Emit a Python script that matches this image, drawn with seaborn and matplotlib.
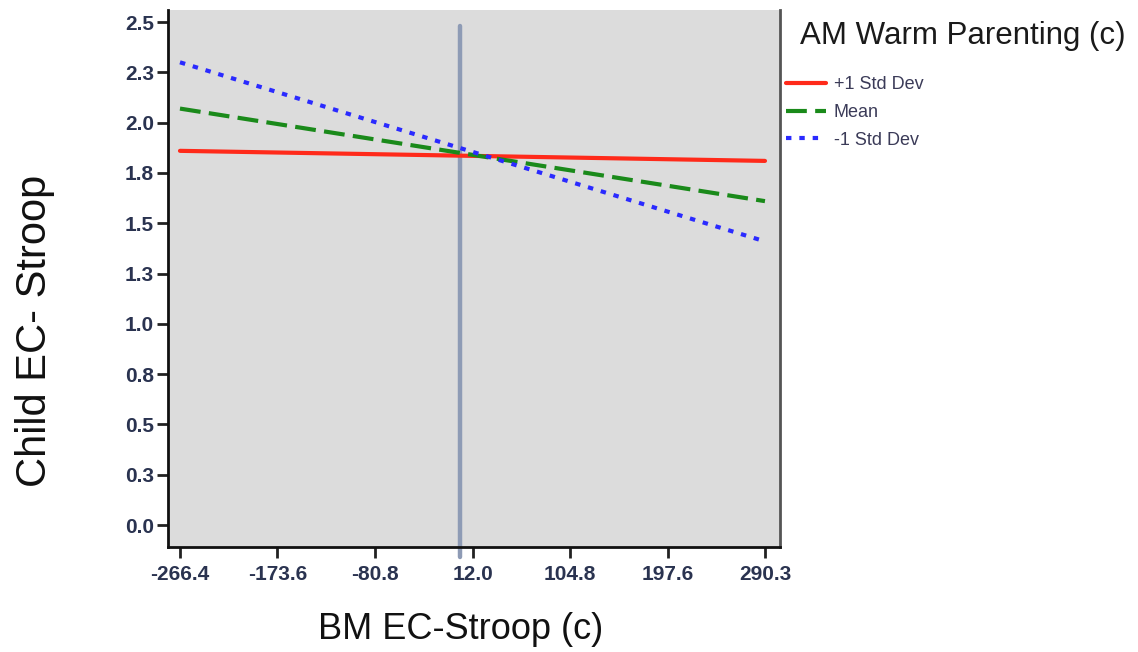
import numpy as np
import pandas as pd
import matplotlib
matplotlib.use("Agg")
import matplotlib.pyplot as plt
import seaborn as sns

# ---- data ----
x_ends = [-266.4, 290.3]
groups = ["+1 Std Dev", "Mean", "-1 Std Dev"]
plus_sd = [1.86, 1.81]
mean_vals = [2.07, 1.61]
minus_sd = [2.30, 1.41]
x_ticks = [-266.4, -173.6, -80.8, 12.0, 104.8, 197.6, 290.3]
x_ticklabels = ["-266.4", "-173.6", "-80.8", "12.0", "104.8", "197.6", "290.3"]
y_ticks = [0.0, 0.25, 0.5, 0.75, 1.0, 1.25, 1.5, 1.75, 2.0, 2.25, 2.5]
y_ticklabels = ["0.0", "0.3", "0.5", "0.8", "1.0", "1.3", "1.5", "1.8", "2.0", "2.3", "2.5"]
ref_x = 0.0
legend_title = "AM Warm Parenting (c)"

df = pd.DataFrame({
    "x": x_ends * 3,
    "y": plus_sd + mean_vals + minus_sd,
    "group": [g for g in groups for _ in range(2)],
})

sns.set_theme(style="white")
plt.rcParams["font.family"] = ["Liberation Sans", "DejaVu Sans"]

W, H = 1138, 652
fig = plt.figure(figsize=(W / 100, H / 100), dpi=100)
ax = fig.add_axes([168 / W, 1 - 547 / H, (780 - 168) / W, (547 - 10) / H])
ax.set_facecolor("#dcdcdc")

palette = {"+1 Std Dev": "#ff2a1a", "Mean": "#1a8a1a", "-1 Std Dev": "#2a2aff"}
dashes = {"+1 Std Dev": "", "Mean": (5, 2), "-1 Std Dev": (1.3, 1.9)}
sns.lineplot(data=df, x="x", y="y", hue="group", style="group",
             palette=palette, dashes=dashes, hue_order=groups, style_order=groups,
             linewidth=3, ax=ax, legend=True)

ax.plot([ref_x, ref_x], [2.48, -0.16], color="#8e9bb5", linewidth=3.2,
        clip_on=False, zorder=1)

ax.set_xlim(-277.8, 304.6)
ax.set_ylim(-0.109, 2.56)
ax.set_xticks(x_ticks)
ax.set_xticklabels(x_ticklabels)
ax.set_yticks(y_ticks)
ax.set_yticklabels(y_ticklabels)

for lab in ax.get_xticklabels() + ax.get_yticklabels():
    lab.set_fontweight("bold")
    lab.set_fontsize(15)
    lab.set_color("#2a3350")

ax.tick_params(axis="both", which="major", length=8, width=2, color="#222222",
               bottom=True, left=True, direction="out")
ax.tick_params(axis="x", pad=5)
ax.tick_params(axis="y", pad=2)
for side in ["left", "bottom", "right"]:
    ax.spines[side].set_visible(True)
    ax.spines[side].set_color("#111111")
    ax.spines[side].set_linewidth(2)
ax.spines["top"].set_visible(False)
ax.spines["right"].set_color("#555555")

ax.set_xlabel("BM EC-Stroop (c)", fontsize=26, color="#111111")
ax.xaxis.set_label_coords((461 - 168) / 612, (547 - 612) / 537)
ax.set_ylabel("Child EC- Stroop", fontsize=30, color="#111111")
ax.yaxis.set_label_coords((55 - 168) / 612, (547 - 331) / 537)

leg = ax.legend(loc="upper left", bbox_to_anchor=(786 / W, 1 - 76 / H),
                bbox_transform=fig.transFigure, frameon=False, fontsize=13,
                handlelength=2.2, labelspacing=0.6, handletextpad=0.45,
                borderaxespad=0, borderpad=0)
for line in leg.get_lines():
    line.set_linewidth(3)
for t in leg.get_texts():
    t.set_color("#3b3b58")

fig.text(800 / W, 1 - 36 / H, legend_title, fontsize=22.5, color="#1a1a1a",
         ha="left", va="center")

fig.savefig("out.png", dpi=100, facecolor="white")
